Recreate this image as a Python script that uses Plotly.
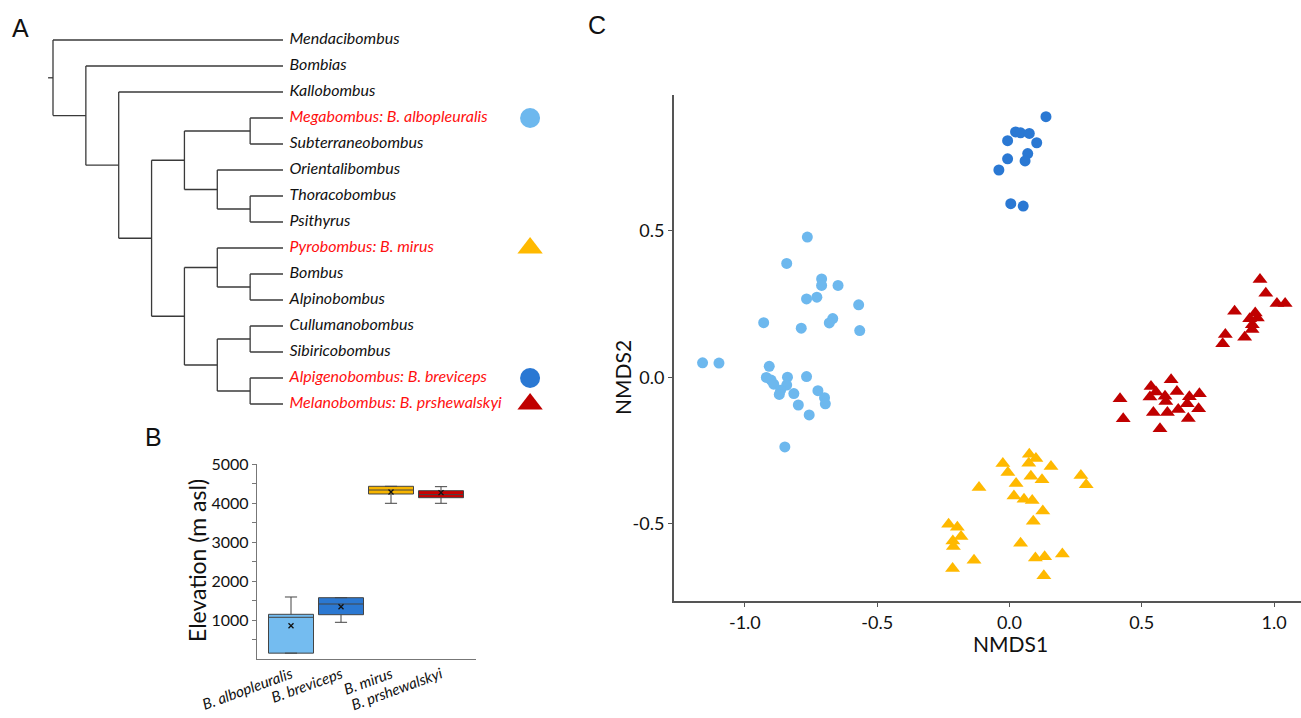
import plotly.graph_objects as go

W, H = 1301, 718

# ---------------- Panel A : cladogram data ----------------
leaves = ["Mendacibombus", "Bombias", "Kallobombus", "Megabombus: B. albopleuralis",
          "Subterraneobombus", "Orientalibombus", "Thoracobombus", "Psithyrus",
          "Pyrobombus: B. mirus", "Bombus", "Alpinobombus", "Cullumanobombus",
          "Sibiricobombus", "Alpigenobombus: B. breviceps", "Melanobombus: B. prshewalskyi"]
highlighted = ["Megabombus: B. albopleuralis", "Pyrobombus: B. mirus",
               "Alpigenobombus: B. breviceps", "Melanobombus: B. prshewalskyi"]
# nested topology: (level, [children]); leaves are names
tree = (0, ["Mendacibombus",
            (1, ["Bombias",
                 (2, ["Kallobombus",
                      (3, [(4, [(6, ["Megabombus: B. albopleuralis", "Subterraneobombus"]),
                                (5, ["Orientalibombus", (6, ["Thoracobombus", "Psithyrus"])])]),
                           (4, [(5, ["Pyrobombus: B. mirus", (6, ["Bombus", "Alpinobombus"])]),
                                (5, [(6, ["Cullumanobombus", "Sibiricobombus"]),
                                     (6, ["Alpigenobombus: B. breviceps",
                                          "Melanobombus: B. prshewalskyi"])])])])])])])
TIP_LEVEL = 7
marker_species = ["Megabombus: B. albopleuralis", "Pyrobombus: B. mirus",
                  "Alpigenobombus: B. breviceps", "Melanobombus: B. prshewalskyi"]
marker_symbols = ["circle", "triangle-up", "circle", "triangle-up"]
marker_colors = ["#6DB8EE", "#FFB900", "#2A78D3", "#C00000"]

# ---------------- Panel B : elevation boxplot ----------------
species = ["B. albopleuralis", "B. breviceps", "B. mirus", "B. prshewalskyi"]
q1 = [150, 1136, 4231, 4136]
median = [1069, 1410, 4333, 4215]
q3 = [1146, 1572, 4428, 4316]
lowerfence = [150, 941, 3992, 3992]
upperfence = [1590, 1572, 4428, 4419]
means = [854, 1341, 4282, 4265]
box_colors = ["#74BCF0", "#2B78D2", "#F7B500", "#C80000"]

# ---------------- Panel C : NMDS ----------------
albo_x = [-0.764, -0.842, -0.710, -0.710, -0.648, -0.767, -0.728, -0.570, -0.929, -0.787,
          -0.668, -0.681, -0.566, -1.160, -1.098, -0.908, -0.919, -0.901, -0.891, -0.839,
          -0.767, -0.842, -0.865, -0.870, -0.815, -0.724, -0.699, -0.696, -0.798, -0.757, -0.849]
albo_y = [0.479, 0.389, 0.336, 0.314, 0.314, 0.268, 0.274, 0.248, 0.187, 0.168,
          0.201, 0.186, 0.160, 0.050, 0.049, 0.038, 0.000, -0.009, -0.023, 0.001,
          0.003, -0.026, -0.044, -0.058, -0.055, -0.045, -0.069, -0.090, -0.094, -0.128, -0.237]
brev_x = [0.138, 0.023, 0.042, 0.075, -0.007, 0.103, 0.069, 0.059, -0.007, -0.040, 0.005, 0.052]
brev_y = [0.890, 0.838, 0.835, 0.833, 0.808, 0.801, 0.764, 0.739, 0.746, 0.708, 0.593, 0.585]
mirus_x = [0.075, 0.100, 0.073, -0.025, 0.157, -0.006, 0.081, 0.123, 0.270, 0.290,
           0.025, -0.115, 0.017, 0.055, 0.086, 0.126, 0.090, -0.230, -0.197, -0.183,
           -0.214, -0.212, 0.042, -0.134, 0.098, 0.133, 0.200, -0.215, 0.130]
mirus_y = [-0.262, -0.277, -0.293, -0.294, -0.304, -0.324, -0.337, -0.349, -0.335, -0.366,
           -0.362, -0.376, -0.405, -0.416, -0.420, -0.456, -0.491, -0.501, -0.511, -0.543,
           -0.558, -0.577, -0.566, -0.624, -0.616, -0.612, -0.603, -0.652, -0.677]
prsh_x = [0.947, 0.969, 1.011, 1.042, 0.851, 0.929, 0.908, 0.937, 0.918, 0.917, 0.816, 0.889, 0.806,
          0.611, 0.535, 0.554, 0.633, 0.418, 0.531, 0.588, 0.591, 0.680, 0.718, 0.672, 0.638,
          0.544, 0.597, 0.715, 0.430, 0.676, 0.569]
prsh_y = [0.334, 0.287, 0.252, 0.252, 0.226, 0.220, 0.200, 0.203, 0.180, 0.164, 0.147, 0.137, 0.115,
          -0.008, -0.031, -0.050, -0.048, -0.073, -0.067, -0.064, -0.082, -0.066, -0.056, -0.090,
          -0.109, -0.120, -0.120, -0.107, -0.141, -0.140, -0.175]
nmds_x_ticks = [-1.0, -0.5, 0.0, 0.5, 1.0]
nmds_y_ticks = [-0.5, 0.0, 0.5]

FONT = "Lato"


def px(x):
    return x / W


def py(y):
    return 1 - y / H


fig = go.Figure()

# ---- build tree segments ----
leaf_y = {name: i for i, name in enumerate(leaves)}
seg_x, seg_y = [], []


def node_pos(node):
    if isinstance(node, str):
        return TIP_LEVEL, leaf_y[node]
    level, children = node
    ys = [node_pos(c)[1] for c in children]
    return level, (ys[0] + ys[-1]) / 2


def draw(node):
    if isinstance(node, str):
        return
    level, children = node
    cpos = [node_pos(c) for c in children]
    seg_x.extend([level, level, None])
    seg_y.extend([cpos[0][1], cpos[-1][1], None])
    for c, (cl, cy) in zip(children, cpos):
        seg_x.extend([level, cl, None])
        seg_y.extend([cy, cy, None])
        draw(c)


draw(tree)
root_level, root_y = node_pos(tree)
seg_x.extend([root_level - 0.15, root_level, None])
seg_y.extend([root_y, root_y, None])

fig.add_trace(go.Scatter(x=seg_x, y=seg_y, mode="lines", line=dict(color="#3a3a3a", width=1.3),
                         xaxis="x", yaxis="y", hoverinfo="skip", showlegend=False))
fig.add_trace(go.Scatter(
    x=[TIP_LEVEL + 0.2] * len(leaves), y=list(range(len(leaves))), mode="text",
    text=[f"<i>{n}</i>" for n in leaves], textposition="middle right",
    textfont=dict(family=FONT, size=16,
                  color=["#FF1010" if n in highlighted else "#111111" for n in leaves]),
    xaxis="x", yaxis="y", showlegend=False, hoverinfo="skip", cliponaxis=False))
for sp, sym, col in zip(marker_species, marker_symbols, marker_colors):
    fig.add_trace(go.Scatter(x=[14.52], y=[leaf_y[sp]], mode="markers",
                             marker=dict(symbol=sym, size=20 if sym == "circle" else 22, color=col),
                             xaxis="x", yaxis="y", showlegend=False, cliponaxis=False))

# ---- box plot ----
for i, sp in enumerate(species):
    fig.add_trace(go.Box(
        x=[i], q1=[q1[i]], median=[median[i]], q3=[q3[i]],
        lowerfence=[lowerfence[i]], upperfence=[upperfence[i]],
        fillcolor=box_colors[i], line=dict(color="#444444", width=1),
        width=0.9, whiskerwidth=0.27, boxpoints=False, showlegend=False,
        xaxis="x2", yaxis="y2", name=sp))
fig.add_trace(go.Scatter(x=list(range(len(species))), y=means, mode="markers",
                         marker=dict(symbol="x-thin", size=5, line=dict(color="#111", width=1.3)),
                         xaxis="x2", yaxis="y2", showlegend=False))

# ---- NMDS ----
for xs, ys, sym, col, sz in [(albo_x, albo_y, "circle", "#6DB8EE", 11),
                             (brev_x, brev_y, "circle", "#2A78D3", 11),
                             (mirus_x, mirus_y, "triangle-up", "#FFB900", 13),
                             (prsh_x, prsh_y, "triangle-up", "#C00000", 13)]:
    fig.add_trace(go.Scatter(x=xs, y=ys, mode="markers",
                             marker=dict(symbol=sym, size=sz, color=col, line=dict(width=0)),
                             xaxis="x3", yaxis="y3", showlegend=False))

step = (283 - 53) / 7.0
box_ticks = list(range(500, 5001, 500))
box_ticktext = [str(v) if v % 1000 == 0 else "" for v in box_ticks]

fig.update_layout(
    width=W, height=H, margin=dict(l=0, r=0, t=0, b=0, pad=0, autoexpand=False),
    paper_bgcolor="white", plot_bgcolor="white",
    font=dict(family=FONT, color="#111"),
    xaxis=dict(domain=[px(20), px(560)], range=[(20 - 53) / step, 7 + (560 - 283) / step],
               visible=False, automargin=False),
    yaxis=dict(domain=[py(415), py(30)], range=[14.423, -0.385], visible=False, automargin=False),
    xaxis2=dict(domain=[px(257), px(476)], range=[-0.68, 3.70], anchor="y2",
                tickvals=list(range(len(species))),
                ticktext=[f"<i>{s}</i>" for s in species], tickangle=-20,
                tickfont=dict(family=FONT, size=15, color="#111"),
                showline=True, linecolor="#777", linewidth=1.3, ticks="",
                showgrid=False, zeroline=False, automargin=False),
    yaxis2=dict(domain=[py(659), py(464)], range=[0, 5000], anchor="x2",
                tickvals=box_ticks, ticktext=box_ticktext,
                tickfont=dict(family=FONT, size=16, color="#111"),
                showline=True, linecolor="#777", linewidth=1.3, ticks="outside",
                ticklen=4, tickcolor="#777", showgrid=False, zeroline=False, automargin=False),
    xaxis3=dict(domain=[px(674), px(1301)], range=[-1.268, 1.102], anchor="y3",
                tickvals=nmds_x_ticks, ticktext=[f"{v:.1f}" for v in nmds_x_ticks],
                tickfont=dict(family=FONT, size=18, color="#111"),
                showline=True, linecolor="#555", linewidth=2, ticks="outside", ticklen=4,
                tickcolor="#555", showgrid=False, zeroline=False, automargin=False),
    yaxis3=dict(domain=[py(601), py(95)], range=[-0.763, 0.964], anchor="x3",
                tickvals=nmds_y_ticks, ticktext=[f"{v:.1f}" for v in nmds_y_ticks],
                tickfont=dict(family=FONT, size=18, color="#111"),
                showline=True, linecolor="#555", linewidth=2, ticks="outside", ticklen=4,
                tickcolor="#555", showgrid=False, zeroline=False, automargin=False),
)

annotations = [
    dict(text="A", x=px(20), y=py(28), font=dict(family="Liberation Sans", size=25)),
    dict(text="B", x=px(153), y=py(437), font=dict(family="Liberation Sans", size=25)),
    dict(text="C", x=px(597), y=py(25), font=dict(family="Liberation Sans", size=25)),
    dict(text="NMDS1", x=px(1010), y=py(643), font=dict(family=FONT, size=21)),
    dict(text="NMDS2", x=px(622), y=py(378), textangle=-90, font=dict(family=FONT, size=21)),
    dict(text="Elevation (m asl)", x=px(197), y=py(561), textangle=-90,
         font=dict(family=FONT, size=23)),
]
for a in annotations:
    a.update(xref="paper", yref="paper", showarrow=False, xanchor="center", yanchor="middle")
fig.update_layout(annotations=annotations)

fig.write_html("out.html", config={"displayModeBar": False},
               post_script="document.body.style.margin='0px';document.body.style.overflow='hidden';")
